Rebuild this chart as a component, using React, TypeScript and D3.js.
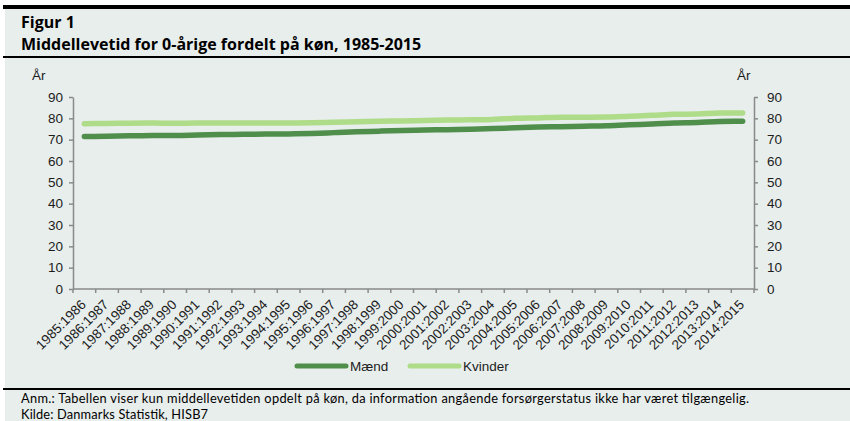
import React, { useEffect, useRef } from "react";
import * as d3 from "d3";

const periods = [
  "1985:1986", "1986:1987", "1987:1988", "1988:1989", "1989:1990", "1990:1991",
  "1991:1992", "1992:1993", "1993:1994", "1994:1995", "1995:1996", "1996:1997",
  "1997:1998", "1998:1999", "1999:2000", "2000:2001", "2001:2002", "2002:2003",
  "2003:2004", "2004:2005", "2005:2006", "2006:2007", "2007:2008", "2008:2009",
  "2009:2010", "2010:2011", "2011:2012", "2012:2013", "2013:2014", "2014:2015",
];
const maend = [
  71.5, 71.6, 71.8, 72.0, 72.0, 72.2, 72.4, 72.5, 72.6, 72.7, 72.9, 73.3,
  73.7, 74.0, 74.3, 74.5, 74.7, 74.9, 75.2, 75.6, 75.9, 76.1, 76.3, 76.5,
  77.0, 77.3, 77.8, 78.0, 78.5, 78.6,
];
const kvinder = [
  77.5, 77.6, 77.7, 77.8, 77.7, 77.8, 77.8, 77.8, 77.8, 77.8, 77.9, 78.2,
  78.4, 78.6, 78.8, 79.0, 79.2, 79.3, 79.5, 80.0, 80.2, 80.5, 80.5, 80.6,
  81.0, 81.4, 81.9, 82.0, 82.5, 82.5,
];
const yTicks = [0, 10, 20, 30, 40, 50, 60, 70, 80, 90];
const seriesNames = ["Mænd", "Kvinder"];
const seriesColors = ["#4f8f4b", "#aedc88"];

const W = 850, H = 421;
const BG = "#e8eeec";
const AXIS = "#8a8a8a";
const TXT = "#1c1c1c";
const CHART_FONT = "'Liberation Sans', Arial, sans-serif";
const HEAD_FONT = "'Open Sans', Lato, sans-serif";
const NOTE_FONT = "Lato, 'Open Sans', sans-serif";

export default function App() {
  const ref = useRef<SVGSVGElement>(null);

  useEffect(() => {
    const svg = d3.select(ref.current);
    svg.selectAll("*").remove();

    svg.append("rect").attr("x", 5).attr("y", 5).attr("width", W - 5).attr("height", H - 5).attr("fill", BG);
    // frame lines
    svg.append("rect").attr("x", 3).attr("y", 5).attr("width", W - 3).attr("height", 4).attr("fill", "#000");
    svg.append("rect").attr("x", 3).attr("y", 56).attr("width", W - 3).attr("height", 2).attr("fill", "#000");
    svg.append("rect").attr("x", 3).attr("y", 388).attr("width", W - 3).attr("height", 2).attr("fill", "#000");

    svg.append("text").attr("x", 21).attr("y", 28).attr("font-family", HEAD_FONT)
      .attr("font-weight", "bold").attr("font-size", 16).attr("fill", "#000").text("Figur 1");
    svg.append("text").attr("x", 21).attr("y", 50).attr("font-family", HEAD_FONT)
      .attr("font-weight", "bold").attr("font-size", 16).attr("fill", "#000")
      .text("Middellevetid for 0-årige fordelt på køn, 1985-2015");

    const x = d3.scaleBand<string>().domain(periods).range([73, 754]).padding(0);
    const y = d3.scaleLinear().domain([0, 90]).range([289, 97]);

    const gL = svg.append("g").attr("transform", "translate(73,0)")
      .call(d3.axisLeft(y).tickValues(yTicks).tickSize(4).tickSizeOuter(0).tickPadding(6));
    const gR = svg.append("g").attr("transform", "translate(754,0)")
      .call(d3.axisRight(y).tickValues(yTicks).tickSize(4).tickSizeOuter(0).tickPadding(9));
    [gL, gR].forEach((g) => {
      g.select(".domain").attr("stroke", AXIS).attr("stroke-width", 1.5);
      g.selectAll(".tick line").attr("stroke", AXIS).attr("stroke-width", 1.5);
      g.selectAll(".tick text").attr("fill", TXT).attr("font-size", 13.5).attr("font-family", CHART_FONT);
    });

    svg.append("text").attr("x", 32).attr("y", 80).attr("font-family", CHART_FONT)
      .attr("font-size", 13.5).attr("fill", TXT).text("År");
    svg.append("text").attr("x", 737).attr("y", 80).attr("font-family", CHART_FONT)
      .attr("font-size", 13.5).attr("fill", TXT).text("År");

    // x axis
    const gx = svg.append("g");
    gx.append("line").attr("x1", 73).attr("x2", 754).attr("y1", 289).attr("y2", 289)
      .attr("stroke", AXIS).attr("stroke-width", 1.5);
    const bounds = periods.map((p) => x(p) as number).concat([x.range()[1]]);
    gx.selectAll(".xt").data(bounds).enter().append("line")
      .attr("x1", (d) => d).attr("x2", (d) => d).attr("y1", 289).attr("y2", 293)
      .attr("stroke", AXIS).attr("stroke-width", 1.5);
    gx.selectAll(".xl").data(periods).enter().append("text")
      .attr("transform", (d) => "translate(" + ((x(d) as number) + x.bandwidth() / 2 - 1) + ",302) rotate(-45)")
      .attr("text-anchor", "end").attr("dy", "0.35em")
      .attr("font-family", CHART_FONT).attr("font-size", 13.5).attr("fill", TXT)
      .text((d) => d);

    const line = d3.line<number>()
      .x((_, i) => (x(periods[i]) as number) + x.bandwidth() / 2)
      .y((d) => y(d))
      .curve(d3.curveMonotoneX);
    [maend, kvinder].forEach((s, i) => {
      svg.append("path").attr("d", line(s) as string).attr("fill", "none")
        .attr("stroke", seriesColors[i]).attr("stroke-width", 5.5)
        .attr("stroke-linecap", "round").attr("stroke-linejoin", "round");
    });

    // legend
    const legX = [297, 410];
    seriesNames.forEach((n, i) => {
      svg.append("line").attr("x1", legX[i]).attr("x2", legX[i] + 49).attr("y1", 366).attr("y2", 366)
        .attr("stroke", seriesColors[i]).attr("stroke-width", 5).attr("stroke-linecap", "round");
      svg.append("text").attr("x", legX[i] + 53).attr("y", 371).attr("font-family", CHART_FONT)
        .attr("font-size", 13.5).attr("fill", TXT).text(n);
    });

    svg.append("text").attr("x", 21).attr("y", 403).attr("font-family", NOTE_FONT)
      .attr("font-size", 12.8).attr("fill", "#000")
      .attr("textLength", 728).attr("lengthAdjust", "spacing")
      .text("Anm.: Tabellen viser kun middellevetiden opdelt på køn, da information angående forsørgerstatus ikke har været tilgængelig.");
    svg.append("text").attr("x", 21).attr("y", 418.5).attr("font-family", NOTE_FONT)
      .attr("font-size", 12.8).attr("fill", "#000")
      .attr("textLength", 187).attr("lengthAdjust", "spacing")
      .text("Kilde: Danmarks Statistik, HISB7");
  }, []);

  return (
    <svg ref={ref} width={W} height={H}
      style={{ position: "absolute", left: 0, top: 0, background: "#fff" }} />
  );
}
